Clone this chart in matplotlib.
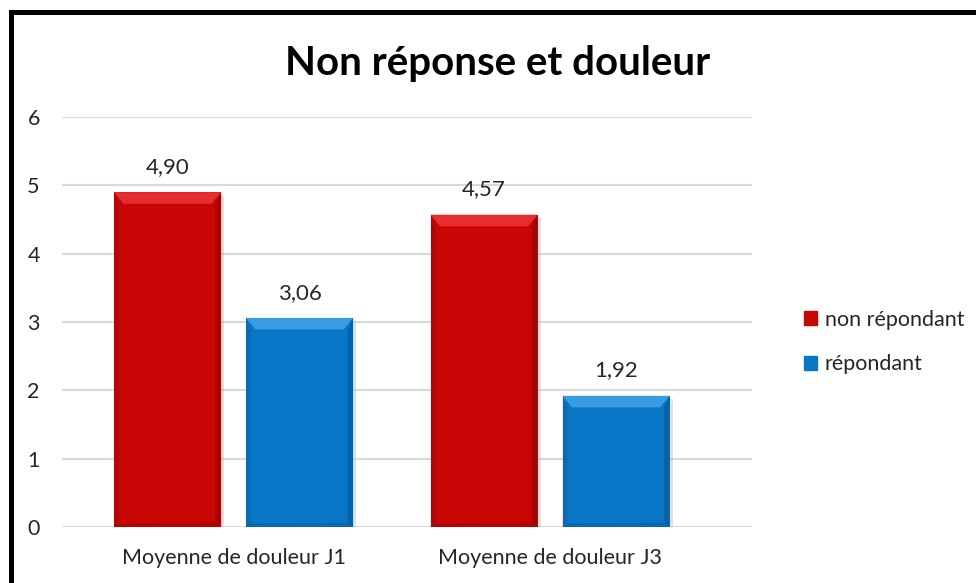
import matplotlib.pyplot as plt
import matplotlib.patches as mpatches
from matplotlib.patches import Polygon, Rectangle
import numpy as np

categories = ["Moyenne de douleur J1", "Moyenne de douleur J3"]
series_names = ["non répondant", "répondant"]
non_repondant = [4.90, 4.57]
repondant = [3.06, 1.92]
yticks = [0, 1, 2, 3, 4, 5, 6]

red = "#C80606"
blue = "#0877C8"
red_light = "#E62E2E"
blue_light = "#3A9BE0"
red_dark = "#8E0202"
blue_dark = "#05528C"

plt.rcParams['font.family'] = ['Lato', 'DejaVu Sans']

fig = plt.figure(figsize=(9.76, 5.83), dpi=100)
ax = fig.add_axes([62 / 976, 1 - 527 / 583, 690 / 976, 410 / 583])

x = np.arange(len(categories))
w = 0.338
off = 0.2085


def bevel_bar(xc, h, col, light, dark):
    # flat bar + soft shadow + bevelled edges
    bx = 0.03
    by = 0.17
    ax.add_patch(Rectangle((xc - w / 2 + 0.01, -0.03), w, h - 0.02, color="#BBBBBB", alpha=0.45, zorder=2, lw=0))
    ax.bar(xc, h, w, color=col, zorder=3, lw=0)
    l, r = xc - w / 2, xc + w / 2
    ax.add_patch(Polygon([(l, h), (r, h), (r - bx, h - by), (l + bx, h - by)], color=light, zorder=4, lw=0))
    ax.add_patch(Polygon([(r, h), (r, 0), (r - bx * 0.6, by * 0.4), (r - bx * 0.6, h - by)], color=dark, zorder=4, lw=0, alpha=0.55))
    ax.add_patch(Polygon([(l, h), (l, 0), (l + bx * 0.5, by * 0.3), (l + bx * 0.5, h - by)], color=dark, zorder=4, lw=0, alpha=0.3))
    ax.add_patch(Polygon([(l, 0), (r, 0), (r - bx * 0.6, by * 0.4), (l + bx * 0.5, by * 0.3)], color=dark, zorder=4, lw=0, alpha=0.35))
    ax.text(xc, h + 0.37, f"{h:.2f}".replace(".", ","), ha="center", va="center", fontsize=16, color="#262626", zorder=5)


for i in range(len(categories)):
    bevel_bar(x[i] - off, non_repondant[i], red, red_light, red_dark)
    bevel_bar(x[i] + off, repondant[i], blue, blue_light, blue_dark)

ax.set_xlim(-0.542, 1.638)
ax.set_ylim(0, 6)
ax.set_yticks(yticks)
ax.set_yticklabels([str(t) for t in yticks], fontsize=15.5, color="#262626")
ax.set_xticks(x)
ax.set_xticklabels(categories, fontsize=15.5, color="#262626")
ax.tick_params(axis="both", length=0)
ax.tick_params(axis="y", pad=16)
ax.tick_params(axis="x", pad=15)
ax.grid(axis="y", color="#D9D9D9", lw=1.5, zorder=0)
ax.set_axisbelow(True)
for s in ax.spines.values():
    s.set_visible(False)

fig.text(498 / 976, 1 - 63 / 583, "Non réponse et douleur", ha="center", va="center",
         fontsize=29, fontweight="bold", color="black")

handles = [mpatches.Patch(color=red, label=series_names[0]),
           mpatches.Patch(color=blue, label=series_names[1])]
fig.legend(handles=handles, loc="center left", bbox_to_anchor=(785 / 976, 1 - 342 / 583),
           frameon=False, fontsize=15.5, handlelength=0.6, handleheight=0.6,
           handletextpad=0.35, labelspacing=1.15, labelcolor="#262626")

# outer frame, open to the right and bottom
fig.add_artist(Rectangle((10.5 / 976, -0.1), 1.2, 1.1 - 12.5 / 583, transform=fig.transFigure,
                         fill=False, lw=3.6, edgecolor="black", clip_on=False))

fig.savefig("out.png", dpi=100)
